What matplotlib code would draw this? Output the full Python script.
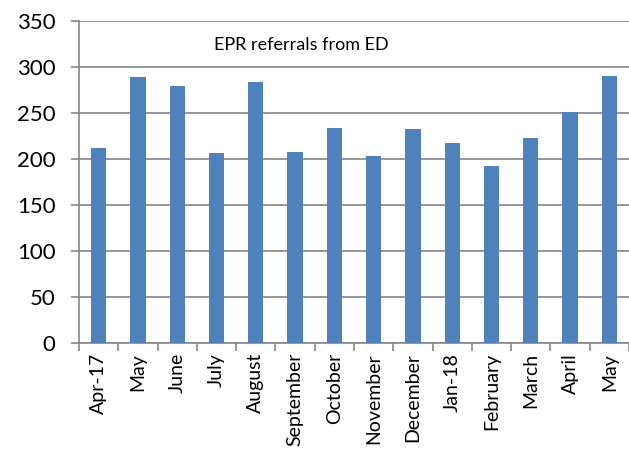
import numpy as np
import matplotlib.pyplot as plt
from matplotlib.ticker import MultipleLocator, FixedLocator

months = ["Apr-17", "May", "June", "July", "August", "September", "October",
          "November", "December", "Jan-18", "February", "March", "April", "May"]
referrals = [212, 289, 279, 207, 284, 208, 234, 203, 232, 217, 192, 223, 251, 290]

plt.rcParams['font.family'] = ['Lato', 'DejaVu Sans']

fig = plt.figure(figsize=(6.29, 4.51), dpi=100)
ax = fig.add_axes([79 / 629, 1 - 343.3 / 451, 550 / 629, 322.6 / 451])

x = np.arange(len(months))
ax.bar(x, referrals, width=0.39, color="#4F81BD", zorder=3)

ax.set_xlim(-0.5, len(months) - 0.5)
ax.set_ylim(0, 350)
ax.yaxis.set_major_locator(MultipleLocator(50))
ax.yaxis.grid(True, color="#868686", linewidth=1.2, zorder=0)

ax.set_xticks(x)
ax.set_xticklabels(months, rotation=90, fontsize=14)
ax.xaxis.set_minor_locator(FixedLocator(np.arange(-0.5, len(months), 1.0)))
ax.tick_params(axis='x', which='major', length=0, pad=7)
ax.tick_params(axis='x', which='minor', length=6, color="#868686", width=1.2)
ax.tick_params(axis='y', labelsize=16, length=6, color="#868686", width=1.2, pad=11)

for s in ["top", "right"]:
    ax.spines[s].set_visible(False)
for s in ["left", "bottom"]:
    ax.spines[s].set_color("#868686")
    ax.spines[s].set_linewidth(1.2)

ax.text(0.404, 0.925, "EPR referrals from ED", transform=ax.transAxes,
        ha="center", va="center", fontsize=13)

fig.savefig("out.png", dpi=100)
